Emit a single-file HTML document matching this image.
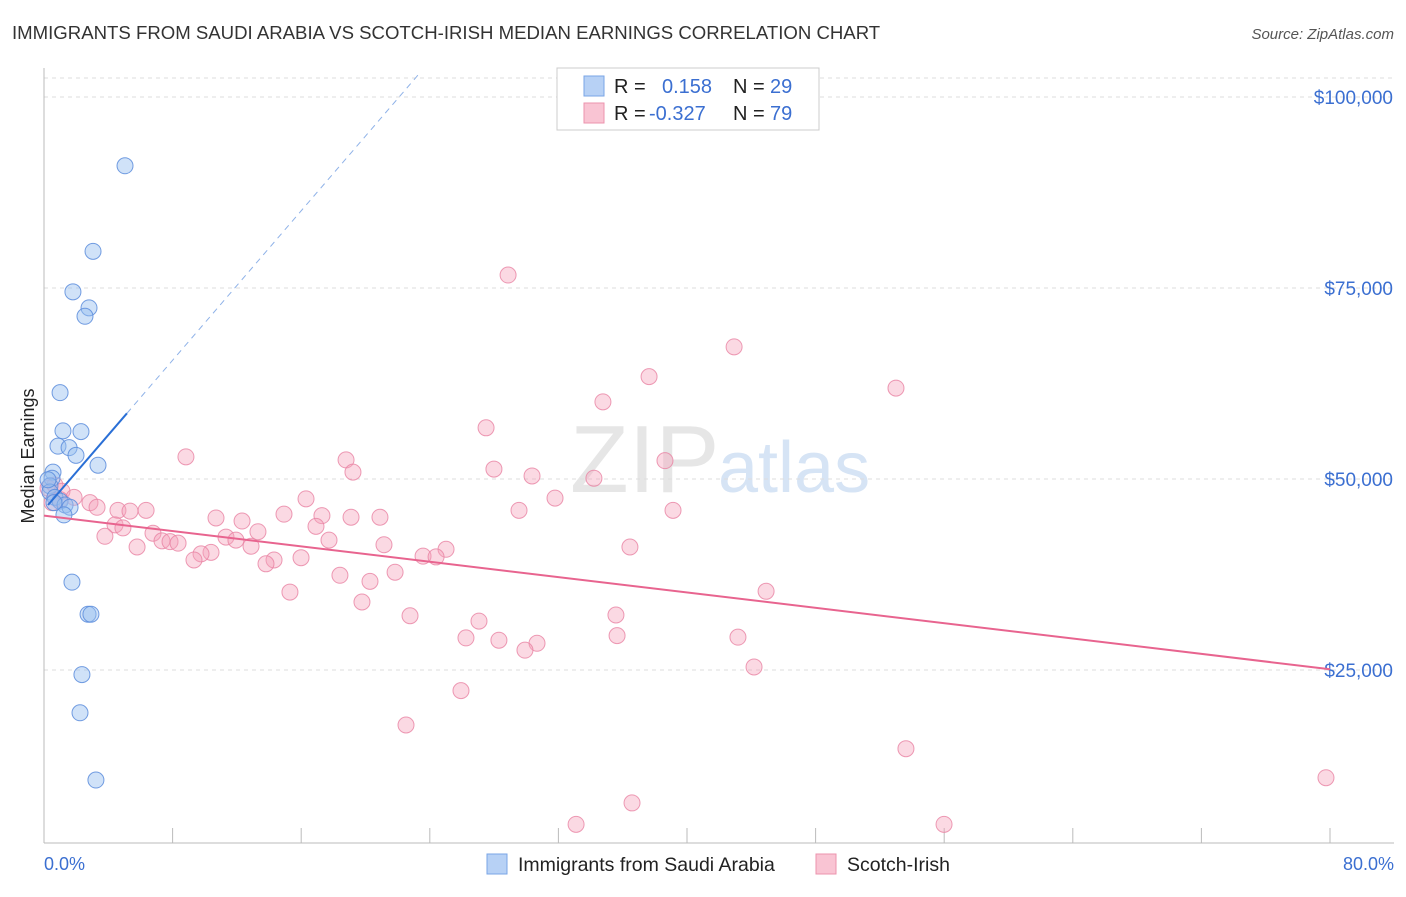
<!DOCTYPE html>
<html><head><meta charset="utf-8"><style>
body{margin:0;background:#fff;font-family:"Liberation Sans",sans-serif;}
svg text{font-family:"Liberation Sans",sans-serif;}
</style></head><body>
<svg width="1406" height="892" viewBox="0 0 1406 892">
<text x="12" y="39" font-size="18.6" fill="#333">IMMIGRANTS FROM SAUDI ARABIA VS SCOTCH-IRISH MEDIAN EARNINGS CORRELATION CHART</text>
<text x="1394" y="39" font-size="15" fill="#555" font-style="italic" text-anchor="end">Source: ZipAtlas.com</text>
<text x="570" y="492" font-size="96" fill="#e6e6e6" font-family="Liberation Serif">ZIP</text>
<text x="718" y="492" font-size="72" fill="#d6e4f5">atlas</text>
<g id="grid"></g>
<line x1="44" y1="68" x2="44" y2="843" stroke="#bbb"/>
<line x1="44" y1="843" x2="1394" y2="843" stroke="#bbb"/>
<g id="xticks"></g>
<text x="34" y="456" font-size="18" fill="#222" text-anchor="middle" transform="rotate(-90 34 456)">Median Earnings</text>
<text x="44" y="870" font-size="18" fill="#3b6fd1">0.0%</text>
<text x="1394" y="870" font-size="18" fill="#3b6fd1" text-anchor="end">80.0%</text>
<g id="pts"></g>
<g id="lines"></g>
<g>
<rect x="557" y="68" width="262" height="62" fill="#fff" stroke="#ccc"/>
<rect x="584" y="76" width="20" height="20" fill="#b7d1f5" stroke="#7aa5e6"/>
<rect x="584" y="103" width="20" height="20" fill="#f9c4d3" stroke="#ec93ae"/>
<text x="614" y="93" font-size="20" fill="#222">R = </text><text x="662" y="93" font-size="20" fill="#3b6fd1">0.158</text>
<text x="733" y="93" font-size="20" fill="#222">N = </text><text x="770" y="93" font-size="20" fill="#3b6fd1">29</text>
<text x="614" y="120" font-size="20" fill="#222">R = </text><text x="649" y="120" font-size="20" fill="#3b6fd1">-0.327</text>
<text x="733" y="120" font-size="20" fill="#222">N = </text><text x="770" y="120" font-size="20" fill="#3b6fd1">79</text>
</g>
<g>
<rect x="487" y="854" width="20" height="20" fill="#b7d1f5" stroke="#7aa5e6"/>
<text x="518" y="871" font-size="19.5" fill="#222">Immigrants from Saudi Arabia</text>
<rect x="816" y="854" width="20" height="20" fill="#f9c4d3" stroke="#ec93ae"/>
<text x="847" y="871" font-size="19.5" fill="#222">Scotch-Irish</text>
</g>
</svg>
<script>
const yTicks=[25000,50000,75000,100000];
const yTickLabels=["$25,000","$50,000","$75,000","$100,000"];
const xTicks=[8,16,24,32,40,48,56,64,72,80];
const blueX=[5.04,3.05,1.80,2.80,2.55,1.00,1.18,2.30,0.87,1.56,1.99,3.36,0.56,0.50,0.37,0.37,0.68,1.00,1.31,1.62,1.24,1.74,2.74,2.92,2.36,2.24,3.23,0.25,0.62];
const blueY=[91000,79800,74500,72400,71300,61300,56300,56200,54300,54100,53100,51800,50900,50100,49100,48300,47600,47100,46600,46300,45300,36500,32300,32300,24400,19400,10600,49900,46900];
const pinkX=[28.87,42.93,37.64,53.0,34.77,27.5,8.83,18.79,38.63,27.99,19.22,30.36,34.21,0.25,0.68,1.12,1.87,1.0,0.5,2.86,3.30,4.60,6.35,5.35,16.3,31.79,29.55,39.13,14.93,10.70,12.32,19.10,17.29,20.90,4.42,4.91,16.92,6.78,3.79,13.31,11.32,11.94,7.34,7.84,8.34,17.73,21.15,25.01,5.79,12.88,36.45,10.39,9.77,23.58,24.39,9.33,15.99,14.31,13.81,21.84,18.41,20.28,15.30,44.92,19.78,22.77,35.58,27.06,26.25,28.30,30.67,35.65,43.17,29.92,44.17,25.94,22.52,53.62,79.75,36.58,33.10,55.99];
const pinkY=[76.7,67.3,63.4,61.9,60.1,56.7,52.9,52.5,52.4,51.3,50.9,50.4,50.1,48.8,49.2,48.4,47.6,47.3,46.9,46.9,46.3,45.9,45.9,45.8,47.4,47.5,45.9,45.9,45.4,44.9,44.5,45.0,45.2,45.0,44.0,43.6,43.8,42.9,42.5,43.1,42.4,42.0,41.9,41.8,41.6,42.0,41.4,40.8,41.1,41.2,41.1,40.4,40.2,39.9,39.8,39.4,39.7,39.4,38.9,37.8,37.4,36.6,35.2,35.3,33.9,32.1,32.2,31.4,29.2,28.9,28.5,29.5,29.3,27.6,25.4,22.3,17.8,14.7,10.9,7.6,4.8,4.8];
const pinkTrend=[[0,45200],[80,25100]];
const blueTrend=[[0.25,46600],[5.16,58600]];
const blueDash=[[5.16,58600],[23.4,103200]];
const NS="http://www.w3.org/2000/svg";
const sx=p=>44+p*16.075;
const sy=v=>861-v/25000*191;
function mk(tag,attrs,parent){const e=document.createElementNS(NS,tag);for(const k in attrs)e.setAttribute(k,attrs[k]);document.getElementById(parent).appendChild(e);return e;}
yTicks.forEach((t,i)=>{
 const l=mk('line',{x1:44,x2:1394,y1:sy(t),y2:sy(t),stroke:'#ddd','stroke-dasharray':'4,4'},'grid');
 
 
 const tx=mk('text',{x:1393,y:sy(t)+7,'font-size':19,fill:'#3b6fd1','text-anchor':'end'},'grid');
 tx.textContent=yTickLabels[i];
 
 
});
const topGrid=mk('line',{x1:44,x2:1394,y1:78,y2:78,stroke:'#ddd','stroke-dasharray':'4,4'},'grid');


xTicks.forEach(t=>{
 const l=mk('line',{x1:sx(t),x2:sx(t),y1:828,y2:843,stroke:'#bbb'},'xticks');
 
 
});
pinkX.forEach((x,i)=>{
 const c=mk('circle',{cx:sx(x),cy:sy(pinkY[i]*1000),r:8,fill:'rgba(244,160,186,0.4)',stroke:'rgba(232,130,162,0.8)','stroke-width':1},'pts');
 
 
});
blueX.forEach((x,i)=>{
 const c=mk('circle',{cx:sx(x),cy:sy(blueY[i]),r:8,fill:'rgba(150,190,240,0.45)',stroke:'rgba(90,140,220,0.85)','stroke-width':1},'pts');
 
 
});
const pl=mk('line',{x1:sx(pinkTrend[0][0]),y1:sy(pinkTrend[0][1]),x2:sx(pinkTrend[1][0]),y2:sy(pinkTrend[1][1]),stroke:'#e8648f','stroke-width':2},'lines');


const bl=mk('line',{x1:sx(blueTrend[0][0]),y1:sy(blueTrend[0][1]),x2:sx(blueTrend[1][0]),y2:sy(blueTrend[1][1]),stroke:'#2a6fd6','stroke-width':2},'lines');


const bd=mk('line',{x1:sx(blueDash[0][0]),y1:sy(blueDash[0][1]),x2:sx(blueDash[1][0]),y2:sy(blueDash[1][1]),stroke:'#8fb2e8','stroke-width':1,'stroke-dasharray':'6,5'},'lines');


</script>
</body></html>
